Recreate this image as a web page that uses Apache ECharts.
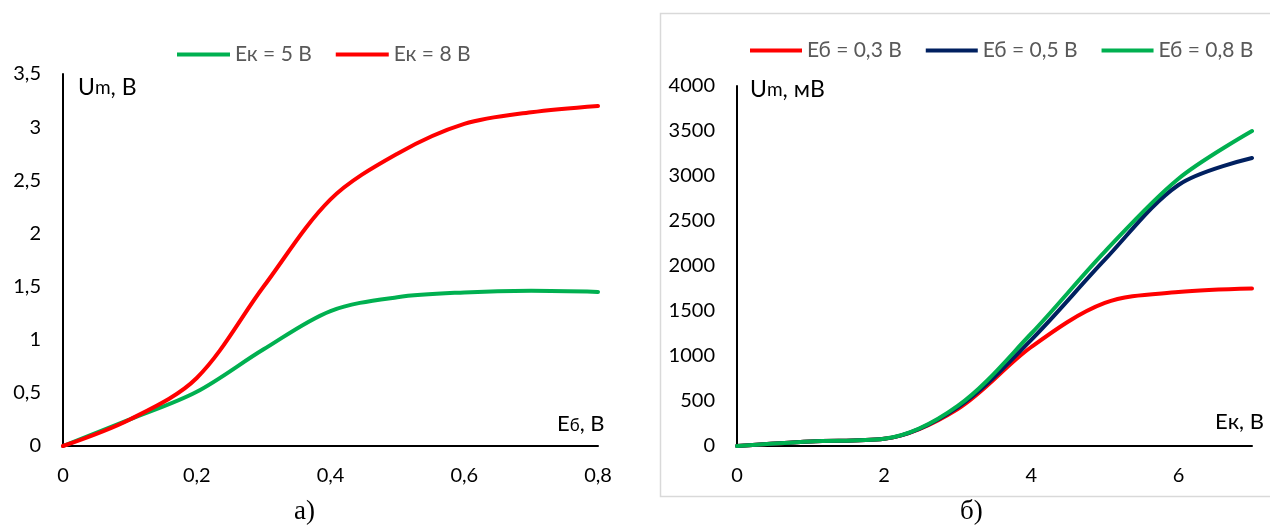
<!DOCTYPE html>
<html>
<head>
<meta charset="utf-8">
<script src="https://cdn.jsdelivr.net/npm/echarts@6/dist/echarts.min.js"></script>
<style>html,body{margin:0;padding:0;background:#fff;}#c{width:1270px;height:531px;}</style>
</head>
<body>
<div id="c"></div>
<script>
// ---- Chart а) : Um (В) vs Eб (В)
var ebValues = [0, 0.1, 0.2, 0.3, 0.4, 0.5, 0.6, 0.7, 0.8];
var umEk5 = [0, 0.25, 0.51, 0.91, 1.27, 1.40, 1.445, 1.46, 1.45];
var umEk8 = [0, 0.25, 0.64, 1.50, 2.32, 2.75, 3.03, 3.14, 3.20];
var leftNames = ['Ек = 5 В', 'Ек = 8 В'];

// ---- Chart б) : Um (мВ) vs Eк (В)
var ekValues = [0, 1, 2, 3, 4, 5, 6, 7];
var umEb03 = [0, 50, 80, 410, 1100, 1590, 1710, 1750];
var umEb05 = [0, 50, 80, 430, 1180, 2070, 2900, 3200];
var umEb08 = [0, 50, 80, 445, 1250, 2160, 2970, 3500];
var rightNames = ['Еб = 0,3 В', 'Еб = 0,5 В', 'Еб = 0,8 В'];

function pairs(xs, ys) { return xs.map(function (x, i) { return [x, ys[i]]; }); }

var FONT = 'Lato';
var axisLine = { show: true, lineStyle: { color: '#000', width: 2 } };
var comma = function (v) { return String(v).replace('.', ','); };
var SMOOTH = 0.33;

var chart = echarts.init(document.getElementById('c'), null, { renderer: 'canvas' });
chart.setOption({
  backgroundColor: '#fff',
  animation: false,
  textStyle: { fontFamily: FONT },
  graphic: [
    { type: 'rect', shape: { x: 660.5, y: 13.5, width: 620, height: 483 },
      style: { fill: 'none', stroke: '#d9d9d9', lineWidth: 1.5 }, z: -10 },
    { type: 'text', left: 294, top: 498, style: { text: 'а)', font: '27px "Liberation Serif"', fill: '#000' } },
    { type: 'text', left: 960, top: 498, style: { text: 'б)', font: '27px "Liberation Serif"', fill: '#000' } }
  ],
  legend: [
    { left: 172, top: 39, icon: 'rect', itemWidth: 53, itemHeight: 4, itemGap: 24,
      textStyle: { color: '#595959', fontSize: 21, fontFamily: FONT },
      data: leftNames },
    { left: 745, top: 35, icon: 'rect', itemWidth: 52, itemHeight: 4, itemGap: 24,
      textStyle: { color: '#595959', fontSize: 21, fontFamily: FONT },
      data: rightNames }
  ],
  grid: [
    { left: 63, top: 74, width: 535, height: 372 },
    { left: 737, top: 86, width: 515, height: 360 }
  ],
  xAxis: [
    { type: 'value', gridIndex: 0, min: 0, max: 0.8, interval: 0.2,
      axisLine: axisLine, axisTick: { show: false }, splitLine: { show: false },
      axisLabel: { color: '#000', fontSize: 20, margin: 20, formatter: comma },
      name: 'Е{s|б}, В', nameLocation: 'end', nameGap: -41,
      nameTextStyle: { color: '#000', fontSize: 22, align: 'left', verticalAlign: 'middle',
        padding: [0, 0, 44, 0], rich: { s: { fontSize: 17, color: '#000', padding: [4, 0, 0, 0] } } } },
    { type: 'value', gridIndex: 1, min: 0, max: 7, interval: 2,
      axisLine: axisLine, axisTick: { show: false }, splitLine: { show: false },
      axisLabel: { color: '#000', fontSize: 20, margin: 20,
        formatter: function (v) { return v === 7 ? '' : String(v); } },
      name: 'Е{n|к}, В', nameLocation: 'end', nameGap: -37,
      nameTextStyle: { color: '#000', fontSize: 22, align: 'left', verticalAlign: 'middle',
        padding: [0, 0, 48, 0], rich: { n: { fontSize: 22, color: '#000' } } } }
  ],
  yAxis: [
    { type: 'value', gridIndex: 0, min: 0, max: 3.5, interval: 0.5,
      axisLine: axisLine, axisTick: { show: false }, splitLine: { show: false },
      axisLabel: { color: '#000', fontSize: 20, margin: 22, formatter: comma },
      name: 'U{s|m}, В', nameLocation: 'end', nameGap: -14,
      nameTextStyle: { color: '#000', fontSize: 23, align: 'left', verticalAlign: 'middle',
        padding: [0, 0, 0, 15], rich: { s: { fontSize: 19, color: '#000' } } } },
    { type: 'value', gridIndex: 1, min: 0, max: 4000, interval: 500,
      axisLine: axisLine, axisTick: { show: false }, splitLine: { show: false },
      axisLabel: { color: '#000', fontSize: 20, margin: 22, formatter: function (v) { return String(v); } },
      name: 'U{s|m}, мВ', nameLocation: 'end', nameGap: -4,
      nameTextStyle: { color: '#000', fontSize: 23, align: 'left', verticalAlign: 'middle',
        padding: [0, 0, 0, 13], rich: { s: { fontSize: 19, color: '#000' } } } }
  ],
  series: [
    { name: leftNames[0], type: 'line', xAxisIndex: 0, yAxisIndex: 0, data: pairs(ebValues, umEk5),
      smooth: SMOOTH, showSymbol: false, symbol: 'none', color: '#00B050', lineStyle: { width: 4, cap: 'round' } },
    { name: leftNames[1], type: 'line', xAxisIndex: 0, yAxisIndex: 0, data: pairs(ebValues, umEk8),
      smooth: SMOOTH, showSymbol: false, symbol: 'none', color: '#FF0000', lineStyle: { width: 4, cap: 'round' } },
    { name: rightNames[0], type: 'line', xAxisIndex: 1, yAxisIndex: 1, data: pairs(ekValues, umEb03),
      smooth: SMOOTH, showSymbol: false, symbol: 'none', color: '#FF0000', lineStyle: { width: 4, cap: 'round' } },
    { name: rightNames[1], type: 'line', xAxisIndex: 1, yAxisIndex: 1, data: pairs(ekValues, umEb05),
      smooth: SMOOTH, showSymbol: false, symbol: 'none', color: '#002060', lineStyle: { width: 4, cap: 'round' } },
    { name: rightNames[2], type: 'line', xAxisIndex: 1, yAxisIndex: 1, data: pairs(ekValues, umEb08),
      smooth: SMOOTH, showSymbol: false, symbol: 'none', color: '#00B050', lineStyle: { width: 4, cap: 'round' } }
  ]
});
</script>
</body>
</html>
